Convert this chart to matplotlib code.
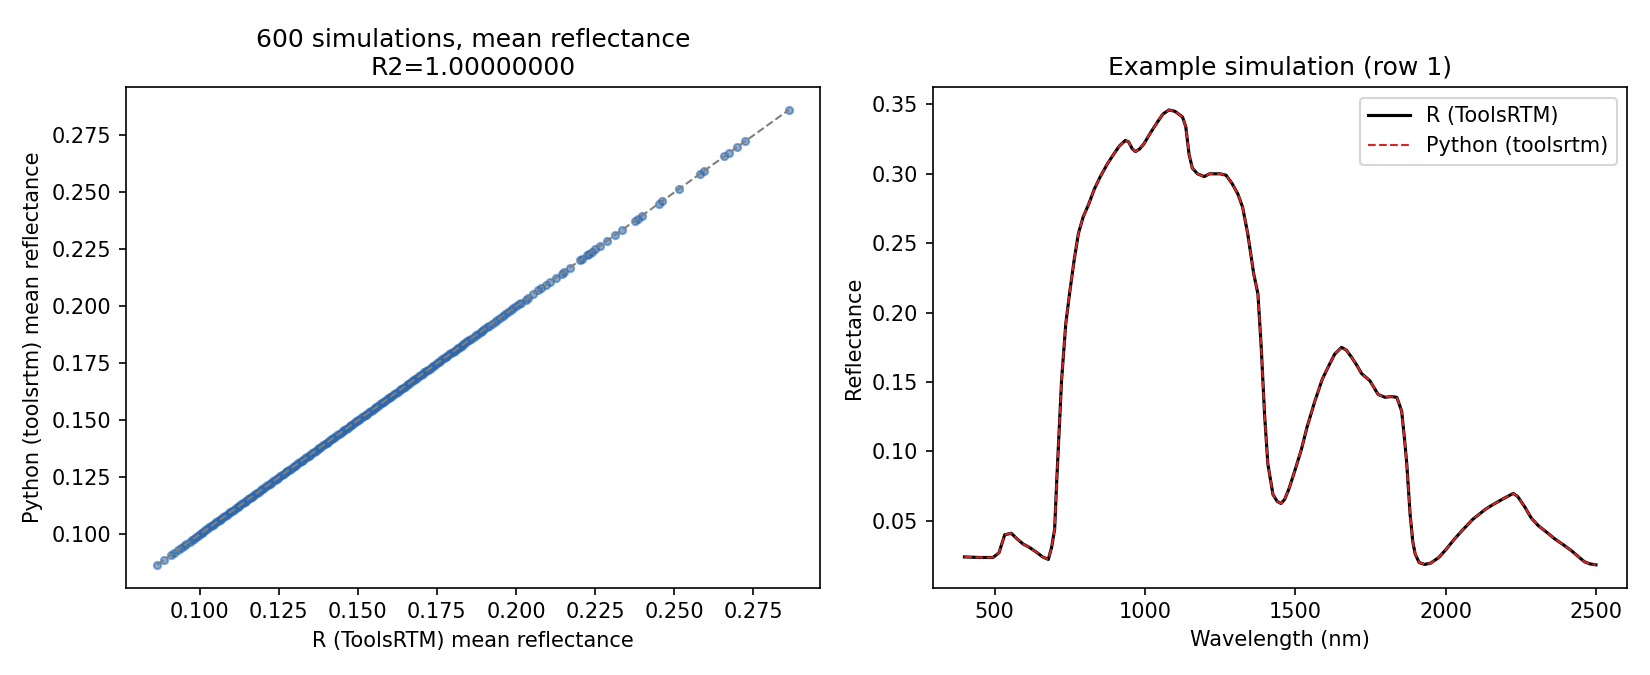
import numpy as np
import matplotlib
matplotlib.use("Agg")
import matplotlib.pyplot as plt

# ── Mean reflectance per simulation (R vs Python) ──
R_MEAN = [
    0.0866, 0.0886, 0.0910, 0.0918, 0.0931, 0.0942, 0.0950, 0.0958, 0.0968, 0.0975,
    0.0981, 0.0988, 0.0994, 0.1000, 0.1006, 0.1011, 0.1017, 0.1023, 0.1030, 0.1035,
    0.1041, 0.1046, 0.1052, 0.1058, 0.1063, 0.1069, 0.1075, 0.1080, 0.1086, 0.1092,
    0.1097, 0.1103, 0.1108, 0.1114, 0.1120, 0.1125, 0.1131, 0.1137, 0.1142, 0.1148,
    0.1153, 0.1159, 0.1165, 0.1170, 0.1176, 0.1182, 0.1187, 0.1193, 0.1198, 0.1204,
    0.1210, 0.1215, 0.1221, 0.1227, 0.1232, 0.1238, 0.1243, 0.1249, 0.1255, 0.1260,
    0.1266, 0.1272, 0.1277, 0.1283, 0.1288, 0.1294, 0.1300, 0.1305, 0.1311, 0.1317,
    0.1322, 0.1328, 0.1333, 0.1339, 0.1345, 0.1350, 0.1356, 0.1362, 0.1367, 0.1373,
    0.1378, 0.1384, 0.1390, 0.1395, 0.1401, 0.1407, 0.1412, 0.1418, 0.1423, 0.1429,
    0.1435, 0.1440, 0.1446, 0.1452, 0.1457, 0.1463, 0.1468, 0.1474, 0.1480, 0.1485,
    0.1491, 0.1497, 0.1502, 0.1508, 0.1513, 0.1519, 0.1525, 0.1530, 0.1536, 0.1542,
    0.1547, 0.1553, 0.1558, 0.1564, 0.1570, 0.1575, 0.1581, 0.1587, 0.1592, 0.1598,
    0.1603, 0.1609, 0.1615, 0.1620, 0.1626, 0.1632, 0.1637, 0.1643, 0.1648, 0.1654,
    0.1660, 0.1665, 0.1671, 0.1677, 0.1682, 0.1688, 0.1693, 0.1699, 0.1705, 0.1710,
    0.1716, 0.1722, 0.1727, 0.1733, 0.1738, 0.1744, 0.1750, 0.1755, 0.1761, 0.1767,
    0.1772, 0.1778, 0.1783, 0.1789, 0.1795, 0.1800, 0.1806, 0.1812, 0.1817, 0.1823,
    0.1828, 0.1834, 0.1840, 0.1846, 0.1852, 0.1858, 0.1866, 0.1873, 0.1880, 0.1888,
    0.1894, 0.1900, 0.1908, 0.1915, 0.1924, 0.1932, 0.1940, 0.1949, 0.1958, 0.1966,
    0.1975, 0.1985, 0.1992, 0.2001, 0.2010, 0.2017, 0.2030, 0.2038, 0.2055, 0.2070,
    0.2080, 0.2096, 0.2107, 0.2125, 0.2144, 0.2152, 0.2170, 0.2202, 0.2210, 0.2225,
    0.2232, 0.2239, 0.2250, 0.2266, 0.2287, 0.2313, 0.2335, 0.2375, 0.2385, 0.2398,
    0.2451, 0.2462, 0.2515, 0.2583, 0.2594, 0.2658, 0.2673, 0.2700, 0.2724, 0.2862,
]
PY_MEAN = list(R_MEAN)  # identical to 8 decimals (R2 = 1)

# ── Example spectrum (row 1) ──
WAVELENGTH = [
    400, 450, 495, 515, 534, 556, 575, 595, 615, 637, 660, 679, 690, 700, 707,
    715, 723, 737, 751, 765, 779, 795, 813, 832, 852, 875, 896, 915, 935, 946,
    958, 969, 983, 997, 1020, 1041, 1060, 1080, 1100, 1125, 1136, 1147, 1158, 1175, 1197,
    1215, 1231, 1250, 1270, 1290, 1309, 1325, 1342, 1362, 1376, 1387, 1398, 1409, 1426, 1440,
    1453, 1465, 1480, 1500, 1520, 1540, 1565, 1590, 1610, 1631, 1654, 1670, 1687, 1705, 1721,
    1748, 1776, 1799, 1820, 1838, 1854, 1863, 1871, 1882, 1891, 1899, 1912, 1930, 1950, 1977,
    2000, 2030, 2055, 2090, 2133, 2160, 2189, 2210, 2225, 2240, 2264, 2285, 2308, 2335, 2363,
    2390, 2418, 2440, 2462, 2480, 2500,
]
REFL_R = [
    0.0240, 0.0236, 0.0236, 0.0270, 0.0400, 0.0410, 0.0370, 0.0333, 0.0310, 0.0278, 0.0240, 0.0222, 0.0310, 0.0440, 0.0790,
    0.1150, 0.1510, 0.1920, 0.2160, 0.2380, 0.2570, 0.2690, 0.2780, 0.2890, 0.2980, 0.3070, 0.3140, 0.3200, 0.3240, 0.3230,
    0.3180, 0.3160, 0.3180, 0.3216, 0.3300, 0.3370, 0.3430, 0.3460, 0.3450, 0.3410, 0.3340, 0.3140, 0.3040, 0.3000, 0.2980,
    0.3000, 0.3000, 0.3000, 0.2990, 0.2930, 0.2856, 0.2760, 0.2570, 0.2280, 0.2135, 0.1750, 0.1270, 0.0910, 0.0690, 0.0640,
    0.0625, 0.0655, 0.0735, 0.0870, 0.1010, 0.1180, 0.1360, 0.1520, 0.1610, 0.1700, 0.1750, 0.1730, 0.1680, 0.1620, 0.1560,
    0.1510, 0.1410, 0.1390, 0.1395, 0.1390, 0.1290, 0.1100, 0.0910, 0.0550, 0.0350, 0.0260, 0.0200, 0.0186, 0.0195, 0.0235,
    0.0290, 0.0370, 0.0430, 0.0510, 0.0584, 0.0620, 0.0656, 0.0680, 0.0698, 0.0675, 0.0598, 0.0520, 0.0466, 0.0420, 0.0370,
    0.0330, 0.0286, 0.0245, 0.0205, 0.0190, 0.0183,
]
REFL_PY = list(REFL_R)

fig, axes = plt.subplots(1, 2, figsize=(11, 4.5))

# Left: scatter of mean reflectance
ax = axes[0]
ax.scatter(R_MEAN, PY_MEAN, s=12, alpha=0.55, color="#2a66ad")
lo, hi = min(R_MEAN), max(R_MEAN)
ax.plot([lo, hi], [lo, hi], "--", color="gray", lw=1)
ax.set_xlabel("R (ToolsRTM) mean reflectance")
ax.set_ylabel("Python (toolsrtm) mean reflectance")
ax.set_title(f"{600} simulations, mean reflectance\nR2={1.0:.8f}")

# Right: example spectrum
ax2 = axes[1]
ax2.plot(WAVELENGTH, REFL_R, "k-", lw=1.5, label="R (ToolsRTM)")
ax2.plot(WAVELENGTH, REFL_PY, "--", color="#d62728", lw=1, label="Python (toolsrtm)")
ax2.set_xlabel("Wavelength (nm)")
ax2.set_ylabel("Reflectance")
ax2.set_title("Example simulation (row 1)")
ax2.legend()

plt.tight_layout()
fig.savefig("out.png", dpi=150)
plt.close(fig)
